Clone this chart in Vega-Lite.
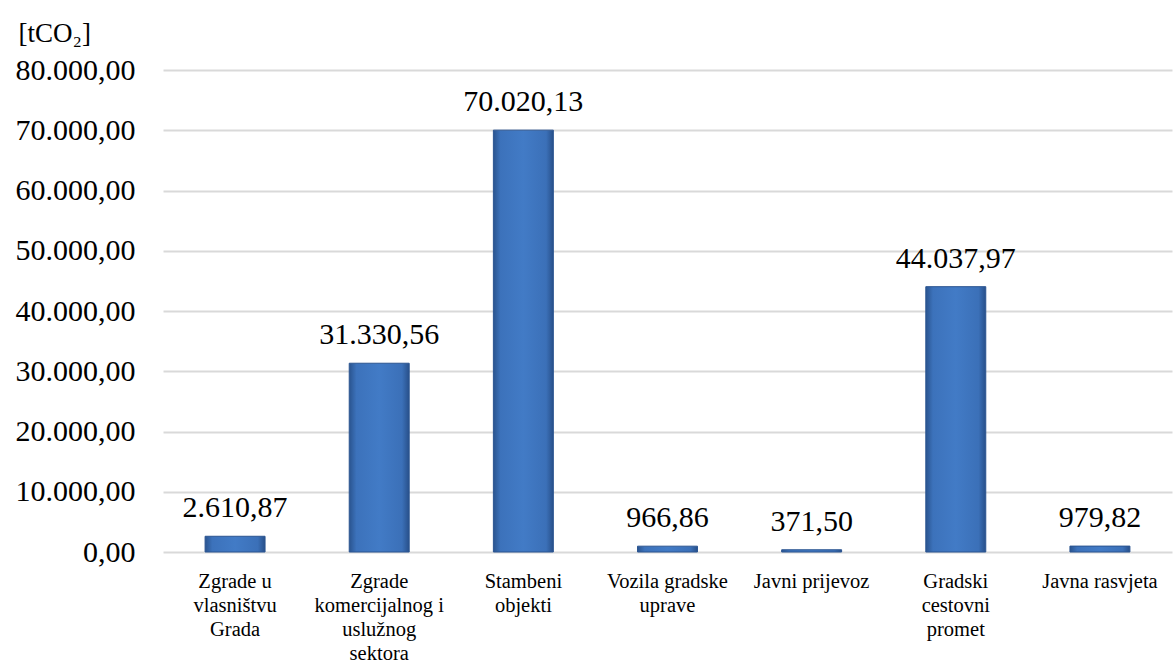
{
  "$schema": "https://vega.github.io/schema/vega-lite/v6.json",
  "width": 1009,
  "height": 482,
  "autosize": {"type": "none"},
  "padding": {"left": 163, "top": 70, "right": 1, "bottom": 111},
  "background": "white",
  "config": {
    "locale": {"number": {"decimal": ",", "thousands": ".", "grouping": [3], "currency": ["", " €"]}},
    "view": {"stroke": null},
    "font": "Liberation Serif"
  },
  "data": {
    "values": [
      {"sektor": "Zgrade u vlasništvu Grada", "emisija": 2610.87},
      {"sektor": "Zgrade komercijalnog i uslužnog sektora", "emisija": 31330.56},
      {"sektor": "Stambeni objekti", "emisija": 70020.13},
      {"sektor": "Vozila gradske uprave", "emisija": 966.86},
      {"sektor": "Javni prijevoz", "emisija": 371.50},
      {"sektor": "Gradski cestovni promet", "emisija": 44037.97},
      {"sektor": "Javna rasvjeta", "emisija": 979.82}
    ]
  },
  "encoding": {
    "x": {
      "field": "sektor",
      "type": "nominal",
      "sort": null,
      "scale": {"paddingInner": 0.584, "paddingOuter": 0.292},
      "axis": {
        "title": null,
        "labelAngle": 0,
        "domain": false,
        "ticks": false,
        "labelPadding": 19,
        "labelFont": "Liberation Serif",
        "labelFontSize": 20.5,
        "labelColor": "#000000",
        "labelLineHeight": 24,
        "labelBaseline": "top",
        "labelLimit": 300,
        "labelExpr": "{'Zgrade u vlasništvu Grada': ['Zgrade u', 'vlasništvu', 'Grada'], 'Zgrade komercijalnog i uslužnog sektora': ['Zgrade', 'komercijalnog i', 'uslužnog', 'sektora'], 'Stambeni objekti': ['Stambeni', 'objekti'], 'Vozila gradske uprave': ['Vozila gradske', 'uprave'], 'Javni prijevoz': ['Javni prijevoz'], 'Gradski cestovni promet': ['Gradski', 'cestovni', 'promet'], 'Javna rasvjeta': ['Javna rasvjeta']}[datum.value]"
      }
    },
    "y": {
      "field": "emisija",
      "type": "quantitative",
      "scale": {"domain": [0, 80000], "nice": false},
      "axis": {
        "values": [0, 10000, 20000, 30000, 40000, 50000, 60000, 70000, 80000],
        "format": ",.2f",
        "title": "[tCO₂]",
        "titleAngle": 0,
        "titleAlign": "left",
        "titleBaseline": "alphabetic",
        "titleX": -145,
        "titleY": -29,
        "titleFont": "Liberation Serif",
        "titleFontSize": 27,
        "titleFontWeight": "normal",
        "titleColor": "#000000",
        "domain": false,
        "ticks": false,
        "labelPadding": 28,
        "labelFont": "Liberation Serif",
        "labelFontSize": 30,
        "labelColor": "#000000",
        "gridColor": "#d9d9d9",
        "gridWidth": 2
      }
    }
  },
  "layer": [
    {
      "mark": {
        "type": "bar",
        "stroke": "#2b5591",
        "strokeWidth": 1,
        "color": {
          "gradient": "linear",
          "x1": 0, "x2": 1, "y1": 0, "y2": 0,
          "stops": [
            {"offset": 0, "color": "#2a548f"},
            {"offset": 0.12, "color": "#3c72bb"},
            {"offset": 0.5, "color": "#427bc6"},
            {"offset": 0.88, "color": "#3b70b8"},
            {"offset": 1, "color": "#28508a"}
          ]
        }
      }
    },
    {
      "mark": {
        "type": "text",
        "baseline": "alphabetic",
        "align": "center",
        "dy": -19,
        "font": "Liberation Serif",
        "fontSize": 30,
        "color": "#000000"
      },
      "encoding": {
        "text": {"field": "emisija", "type": "quantitative", "format": ",.2f"}
      }
    }
  ]
}
